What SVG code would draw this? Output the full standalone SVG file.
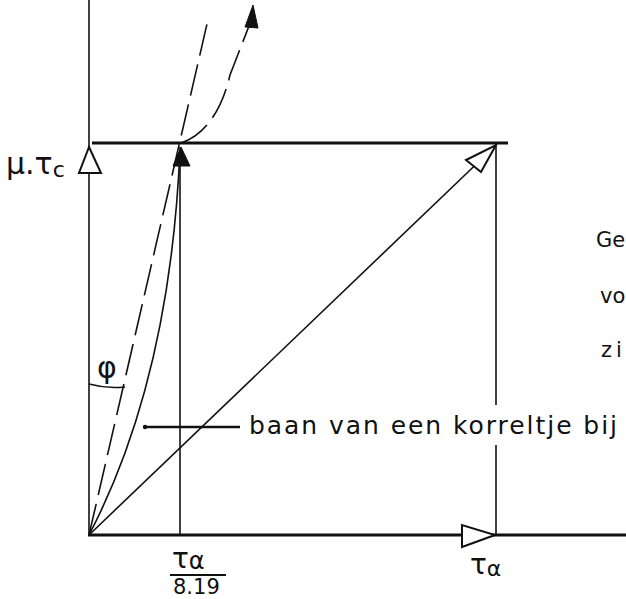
<svg xmlns="http://www.w3.org/2000/svg" width="626" height="599" viewBox="0 0 626 599">
<style>
.thin{stroke:#111;stroke-width:1.6;fill:none}
.thick{stroke:#111;stroke-width:3;fill:none}
.dash{stroke:#111;stroke-width:1.6;fill:none;stroke-dasharray:32 9}
.open{fill:#fff;stroke:#111;stroke-width:2}
.solid{fill:#111;stroke:#111;stroke-width:1}
.lbl{font-family:"DejaVu Sans","Liberation Sans",sans-serif;fill:#111}
</style>
<rect width="626" height="599" fill="#fff"/>
<g id="axes">
<line class="thin" x1="89" y1="0" x2="89" y2="536"/>
<line class="thick" x1="88" y1="535" x2="626" y2="535"/>
<line class="thick" x1="92" y1="143" x2="508" y2="143"/>
<line class="thin" x1="180" y1="147" x2="180" y2="535"/>
<line class="thin" x1="496" y1="143" x2="496" y2="405"/>
<line class="thin" x1="496" y1="445" x2="496" y2="535"/>
</g>
<g id="connectors">
<line class="thin" x1="89" y1="535" x2="490" y2="151"/>
<line class="dash" x1="89" y1="535" x2="207" y2="24"/>
<path class="dash" d="M181,143 C205,135 222,110 230,75 L249,26"/>
<path class="thin" d="M89,535 Q170,380 180,150"/>
<line x1="145" y1="427" x2="240" y2="427" stroke="#111" stroke-width="2.6"/>
<circle cx="145" cy="427" r="2.2" fill="#111"/>
<path class="thin" d="M89,384 Q107,389 125,387"/>
<polygon class="open" points="496,145 481,172 466,160"/>
<polygon class="open" points="89,147 101,173 79,173"/>
<polygon class="open" points="495,535 462,547 462,525"/>
<polygon class="solid" points="181,147 190,166 173,166"/>
<polygon class="solid" points="253,5 258,28 245,27"/>
</g>
<g id="labels">
<text class="lbl" x="6" y="174" font-size="30">μ.τ<tspan font-size="22" dy="3">c</tspan></text>
<text class="lbl" x="97" y="378" font-size="30">φ</text>
<text class="lbl" x="249" y="434" font-size="25" textLength="368" lengthAdjust="spacing">baan van een korreltje  bij</text>
<text class="lbl" x="172" y="568" font-size="28">τ<tspan font-size="24" dy="1">α</tspan></text>
<line x1="170" y1="575" x2="226" y2="575" stroke="#111" stroke-width="2"/>
<text class="lbl" x="173" y="594" font-size="21">8.19</text>
<text class="lbl" x="470" y="574" font-size="28">τ<tspan font-size="22" dy="2">α</tspan></text>
<text class="lbl" x="596" y="247" font-size="21">Ge</text>
<text class="lbl" x="600" y="303" font-size="21">vo</text>
<text class="lbl" x="601" y="357" font-size="21" letter-spacing="4">zi</text>
</g>
</svg>
